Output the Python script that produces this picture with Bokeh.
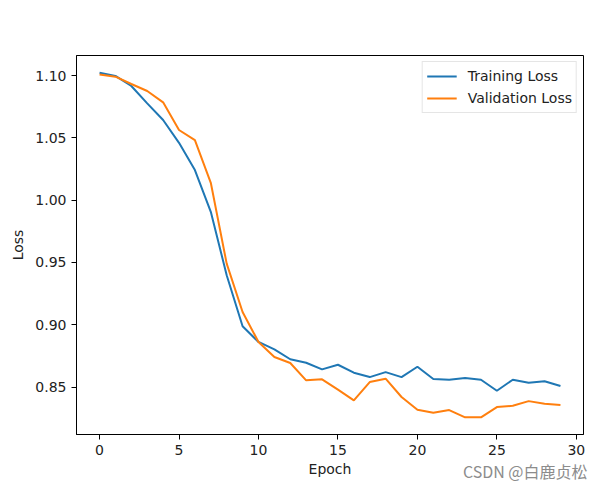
from bokeh.plotting import figure
from bokeh.models import Range1d, FixedTicker, Title, Legend, LegendItem, PrintfTickFormatter
from bokeh.embed import file_html
from bokeh.resources import INLINE

epochs = list(range(30))
training_loss = [1.1024, 1.0998, 1.0917, 1.0778, 1.0644, 1.0461, 1.0242, 0.9907, 0.9398, 0.8988,
                 0.8862, 0.8803, 0.8723, 0.8695, 0.8642, 0.8679, 0.8615, 0.8580, 0.8620, 0.8580,
                 0.8663, 0.8564, 0.8559, 0.8572, 0.8559, 0.8470, 0.8559, 0.8535, 0.8546, 0.8508]
validation_loss = [1.1010, 1.0992, 1.0933, 1.0877, 1.0786, 1.0564, 1.0483, 1.0140, 0.9491, 0.9103,
                   0.8862, 0.8741, 0.8693, 0.8554, 0.8562, 0.8479, 0.8393, 0.8540, 0.8567, 0.8420,
                   0.8318, 0.8293, 0.8315, 0.8257, 0.8257, 0.8339, 0.8350, 0.8387, 0.8366, 0.8355]
x_ticks = [0, 5, 10, 15, 20, 25, 30]
y_ticks = [0.85, 0.90, 0.95, 1.00, 1.05, 1.10]

FONT = "DejaVu Sans"

p = figure(width=598, height=486, output_backend="svg", toolbar_location=None,
           x_range=Range1d(-1.45, 30.45), y_range=Range1d(0.8119, 1.1162),
           min_border_left=76, min_border_top=55, min_border_right=15, min_border_bottom=52)

p.grid.visible = False
p.outline_line_color = "black"
p.outline_line_width = 1

r1 = p.line(epochs, training_loss, line_color="#1f77b4", line_width=2)
r2 = p.line(epochs, validation_loss, line_color="#ff7f0e", line_width=2)

for ax in (p.xaxis[0], p.yaxis[0]):
    ax.major_label_text_font = FONT
    ax.major_label_text_font_size = "14px"
    ax.major_label_text_color = "#222222"
    ax.axis_label_text_font = FONT
    ax.axis_label_text_font_size = "14px"
    ax.axis_label_text_font_style = "normal"
    ax.axis_label_text_color = "#222222"
    ax.minor_tick_line_color = None
    ax.major_tick_out = 5
    ax.major_tick_in = 0
    ax.axis_line_color = "black"

p.xaxis.ticker = FixedTicker(ticks=x_ticks)
p.yaxis.ticker = FixedTicker(ticks=y_ticks)
p.yaxis.formatter = PrintfTickFormatter(format="%.2f")
p.xaxis.axis_label = "Epoch"
p.yaxis.axis_label = "Loss"
p.xaxis.axis_label_standoff = 3
p.yaxis.axis_label_standoff = 6

legend = Legend(items=[LegendItem(label="Training Loss", renderers=[r1]),
                       LegendItem(label="Validation Loss", renderers=[r2])],
                location="top_right")
legend.label_text_font = FONT
legend.label_text_font_size = "14px"
legend.label_text_color = "#222222"
legend.border_line_color = "#cccccc"
legend.border_line_width = 1
legend.glyph_width = 30
legend.label_height = 20
legend.spacing = 2
legend.padding = 4
legend.margin = 6
legend.label_standoff = 11
p.add_layout(legend)

wm = Title(text="CSDN @白鹿贞松", align="right", vertical_align="top",
           text_font="Noto Sans CJK SC", text_font_size="16px", text_font_style="normal",
           text_color="#8c8c8c", standoff=-42, offset=-4)
p.add_layout(wm, "below")

open("out.html", "w").write(file_html(p, INLINE))
